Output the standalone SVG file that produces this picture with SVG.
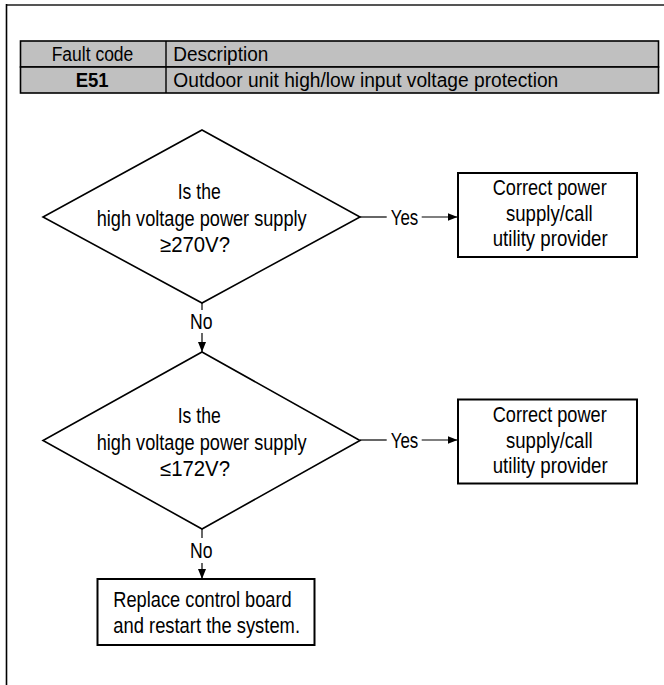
<svg xmlns="http://www.w3.org/2000/svg" width="664" height="685" viewBox="0 0 664 685">
<defs>
<style>
text{font-family:"Liberation Sans Narrow","Liberation Sans",Arial,sans-serif;fill:#000}
.t{font-size:21.5px}
.tb{font-size:20px}
.shape{fill:#fff;stroke:#000;stroke-width:1.6}
.box{fill:#fff;stroke:#000;stroke-width:2}
.ln{fill:none;stroke:#000;stroke-width:1.2}
.cell{fill:#c0c0c0;stroke:#000;stroke-width:1.6}
</style>
<marker id="arr" markerUnits="userSpaceOnUse" markerWidth="10" markerHeight="8" refX="10" refY="4" orient="auto">
<path d="M0,0 L10,4 L0,8 z" fill="#000"/>
</marker>
</defs>
<rect x="0" y="0" width="664" height="685" fill="#fff"/>
<g id="frame">
<line x1="6" y1="5" x2="664" y2="5" stroke="#555" stroke-width="1.8"/>
<line x1="6.5" y1="4" x2="6.5" y2="685" stroke="#000" stroke-width="1.6"/>
</g>
<g id="table">
<rect class="cell" x="20.5" y="41" width="638" height="26"/>
<rect class="cell" x="20.5" y="67" width="638" height="26"/>
<line x1="166" y1="41" x2="166" y2="93" stroke="#000" stroke-width="1.4"/>
<text class="tb" x="51.7" y="61" textLength="81.6" lengthAdjust="spacingAndGlyphs">Fault code</text>
<text class="tb" x="173.3" y="61" textLength="95" lengthAdjust="spacingAndGlyphs">Description</text>
<text class="tb" x="75.7" y="86.7" font-weight="bold" textLength="33" lengthAdjust="spacingAndGlyphs">E51</text>
<text class="tb" x="173.3" y="86.7" textLength="385" lengthAdjust="spacingAndGlyphs">Outdoor unit high/low input voltage protection</text>
</g>
<g id="connectors">
<line class="ln" x1="360" y1="217" x2="386.7" y2="217"/>
<line class="ln" x1="421.7" y1="217" x2="457.5" y2="217" marker-end="url(#arr)"/>
<text class="t" x="390.7" y="225" textLength="27.6" lengthAdjust="spacingAndGlyphs">Yes</text>
<line class="ln" x1="202" y1="303" x2="202" y2="310"/>
<line class="ln" x1="202" y1="333" x2="202" y2="352" marker-end="url(#arr)"/>
<text class="t" x="190" y="329.3" textLength="22.5" lengthAdjust="spacingAndGlyphs">No</text>
<line class="ln" x1="360" y1="440" x2="386.7" y2="440"/>
<line class="ln" x1="421.7" y1="440" x2="457.5" y2="440" marker-end="url(#arr)"/>
<text class="t" x="390.7" y="448" textLength="27.6" lengthAdjust="spacingAndGlyphs">Yes</text>
<line class="ln" x1="202" y1="529" x2="202" y2="538"/>
<line class="ln" x1="202" y1="563" x2="202" y2="579" marker-end="url(#arr)"/>
<text class="t" x="190" y="558.3" textLength="22.5" lengthAdjust="spacingAndGlyphs">No</text>
</g>
<g id="decision1">
<polygon class="shape" points="202,130 360,217 202,303 43,217"/>
<text class="t" x="177.7" y="199" textLength="43" lengthAdjust="spacingAndGlyphs">Is the</text>
<text class="t" x="96.7" y="226" textLength="210" lengthAdjust="spacingAndGlyphs">high voltage power supply</text>
<text class="t" x="160" y="252" textLength="70" lengthAdjust="spacingAndGlyphs">≥270V?</text>
</g>
<g id="action1">
<rect class="box" x="458" y="173" width="179" height="84"/>
<text class="t" x="492.7" y="195" textLength="114" lengthAdjust="spacingAndGlyphs">Correct power</text>
<text class="t" x="506" y="221" textLength="86.7" lengthAdjust="spacingAndGlyphs">supply/call</text>
<text class="t" x="492.7" y="246" textLength="115" lengthAdjust="spacingAndGlyphs">utility provider</text>
</g>
<g id="decision2">
<polygon class="shape" points="202,352 360,440.5 202,529 43,440.5"/>
<text class="t" x="177.7" y="422.5" textLength="43" lengthAdjust="spacingAndGlyphs">Is the</text>
<text class="t" x="96.7" y="449.5" textLength="210" lengthAdjust="spacingAndGlyphs">high voltage power supply</text>
<text class="t" x="160" y="475.5" textLength="70" lengthAdjust="spacingAndGlyphs">≤172V?</text>
</g>
<g id="action2">
<rect class="box" x="458" y="399.5" width="179" height="84"/>
<text class="t" x="492.7" y="421.7" textLength="114" lengthAdjust="spacingAndGlyphs">Correct power</text>
<text class="t" x="506" y="447.5" textLength="86.7" lengthAdjust="spacingAndGlyphs">supply/call</text>
<text class="t" x="492.7" y="472.7" textLength="115" lengthAdjust="spacingAndGlyphs">utility provider</text>
</g>
<g id="replace">
<rect class="box" x="97.5" y="579" width="217" height="66"/>
<text class="t" x="113.3" y="606.7" textLength="178.4" lengthAdjust="spacingAndGlyphs">Replace control board</text>
<text class="t" x="113.3" y="632.7" textLength="186.7" lengthAdjust="spacingAndGlyphs">and restart the system.</text>
</g>
</svg>
